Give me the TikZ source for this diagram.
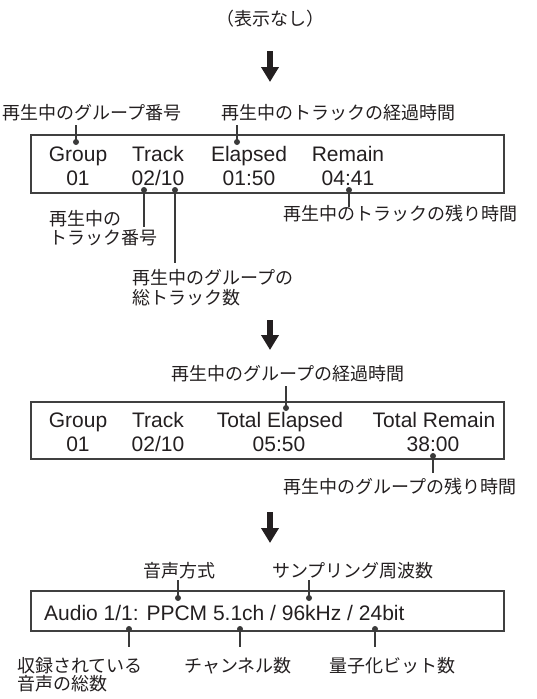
\documentclass[tikz,border=0pt]{standalone}
\usepackage{fontspec}
\setmainfont{Liberation Sans}
\newfontfamily\jpfont{Noto Sans CJK JP}
\usetikzlibrary{arrows.meta}
\definecolor{ink}{HTML}{231F20}
\definecolor{lead}{HTML}{3A3A3A}
\definecolor{frame}{HTML}{404040}
\tikzset{
  jp/.style={anchor=base west, inner sep=0pt, text=ink, font=\jpfont\fontsize{18pt}{20pt}\selectfont},
  jpc/.style={anchor=base, inner sep=0pt, text=ink, font=\jpfont\fontsize{18pt}{20pt}\selectfont},
  lat/.style={anchor=base, inner sep=0pt, text=ink, font=\fontsize{21pt}{24pt}\selectfont},
  latw/.style={anchor=base west, inner sep=0pt, text=ink, font=\fontsize{21pt}{24pt}\selectfont},
  screen/.style={draw=frame, line width=1.1pt},
  leader/.style={draw=lead, line width=2pt},
  dotn/.style={circle, fill=lead, inner sep=0pt, minimum size=6pt},
  bigarrow/.style={draw=ink, line width=6.5pt, -{Triangle[width=17pt,length=15pt]}}
}
\begin{document}
\begin{tikzpicture}[x=1pt,y=-1pt]
\useasboundingbox (0,0) rectangle (536,699);

% top
\node[jpc] (none) at (270,25) {（表示なし）};
\coordinate (a1s) at (270,51); \coordinate (a1e) at (270,82);
\draw[bigarrow] (a1s) -- (a1e);

% ---------- screen 1 ----------
\draw[screen] (31,135) rectangle (504,193);
\node[lat] (g1) at (78,161) {Group};
\node[lat] (t1) at (158,161) {Track};
\node[lat] (e1) at (249,161) {Elapsed};
\node[lat] (r1) at (348,161) {Remain};
\node[lat] (g1v) at (78,185) {01};
\node[lat] (t1v) at (158,185) {02/10};
\node[lat] (e1v) at (249,185) {01:50};
\node[lat] (r1v) at (348,185) {04:41};

\node[jp] (lgrp) at (2,119) {再生中のグループ番号};
\node[jp] (lel) at (221,119) {再生中のトラックの経過時間};
\coordinate (p1) at (76,125); \node[dotn] (q1) at (76,142) {};
\draw[leader] (p1) -- (q1.center);
\coordinate (p2) at (237,125); \node[dotn] (q2) at (237,142) {};
\draw[leader] (p2) -- (q2.center);

\node[jp] (ltn1) at (49,225) {再生中の};
\node[jp] (ltn2) at (49,244.5) {トラック番号};
\node[jp] (lrem) at (283,220) {再生中のトラックの残り時間};
\node[jp] (ltt1) at (132,284) {再生中のグループの};
\node[jp] (ltt2) at (132,304.5) {総トラック数};
\node[dotn] (q3) at (144,190) {}; \coordinate (p3) at (144,227);
\draw[leader] (q3.center) -- (p3);
\node[dotn] (q4) at (175,190) {}; \coordinate (p4) at (175,263);
\draw[leader] (q4.center) -- (p4);
\node[dotn] (q5) at (349,190) {}; \coordinate (p5) at (349,207);
\draw[leader] (q5.center) -- (p5);

\coordinate (a2s) at (270,320); \coordinate (a2e) at (270,350);
\draw[bigarrow] (a2s) -- (a2e);

% ---------- screen 2 ----------
\node[jp] (lgel) at (171,380) {再生中のグループの経過時間};
\draw[screen] (31,402) rectangle (504,459);
\node[lat] (g2) at (78,427) {Group};
\node[lat] (t2) at (158,427) {Track};
\node[lat] (e2) at (280,427) {Total Elapsed};
\node[lat] (r2) at (434,427) {Total Remain};
\node[lat] (g2v) at (78,451) {01};
\node[lat] (t2v) at (158,451) {02/10};
\node[lat] (e2v) at (279,451) {05:50};
\node[lat] (r2v) at (433,451) {38:00};
\coordinate (p6) at (286,386); \node[dotn] (q6) at (286,408) {};
\draw[leader] (p6) -- (q6.center);
\node[dotn] (q7) at (433,456) {}; \coordinate (p7) at (433,473);
\draw[leader] (q7.center) -- (p7);
\node[jp] (lgrem) at (283,493) {再生中のグループの残り時間};

\coordinate (a3s) at (270,512); \coordinate (a3e) at (270,543);
\draw[bigarrow] (a3s) -- (a3e);

% ---------- screen 3 ----------
\node[jp] (lfmt) at (143,577) {音声方式};
\node[jp] (lfs) at (272,577) {サンプリング周波数};
\draw[screen] (31,591) rectangle (504,631);
\node[latw] (aud) at (44,620) {Audio 1/1: PPCM 5.1ch / 96kHz / 24bit};
\coordinate (p8) at (178,580); \node[dotn] (q8) at (178,598) {};
\draw[leader] (p8) -- (q8.center);
\coordinate (p9) at (309,580); \node[dotn] (q9) at (309,598) {};
\draw[leader] (p9) -- (q9.center);
\node[dotn] (q10) at (129,629) {}; \coordinate (p10) at (129,647);
\draw[leader] (q10.center) -- (p10);
\node[dotn] (q11) at (240,629) {}; \coordinate (p11) at (240,647);
\draw[leader] (q11.center) -- (p11);
\node[dotn] (q12) at (375,629) {}; \coordinate (p12) at (375,647);
\draw[leader] (q12.center) -- (p12);
\node[jp] (ltot1) at (17,672) {収録されている};
\node[jp] (ltot2) at (17,690.5) {音声の総数};
\node[jp] (lch) at (184,672) {チャンネル数};
\node[jp] (lbit) at (329,672) {量子化ビット数};
\end{tikzpicture}
\end{document}
